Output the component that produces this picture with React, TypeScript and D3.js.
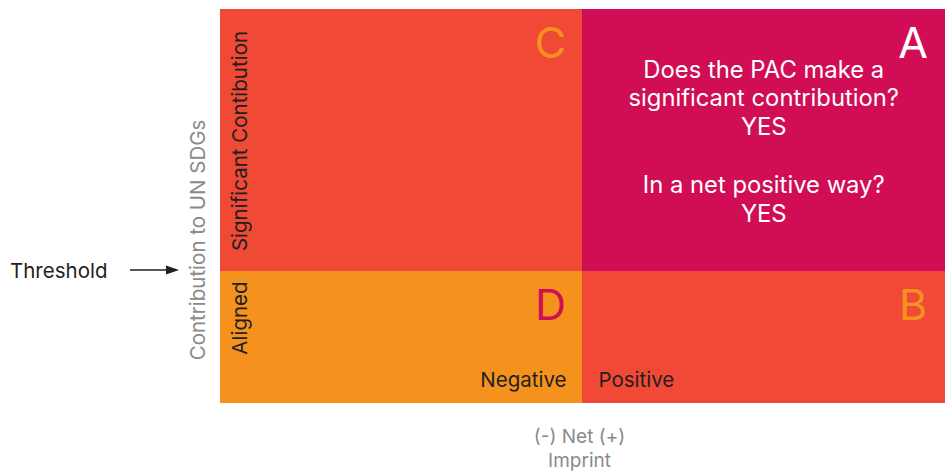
import { useEffect, useRef } from "react"
import * as d3 from "d3"

// quadrant layout in data units: net imprint (-1..1) vs contribution (0..1)
const threshold = 0.335
const quadrants = [
  { id: "C", net: [-1, 0], contrib: [threshold, 1], fill: "#F04A36", letterColor: "#F5921E" },
  { id: "A", net: [0, 1], contrib: [threshold, 1], fill: "#D10D55", letterColor: "#FFFFFF" },
  { id: "D", net: [-1, 0], contrib: [0, threshold], fill: "#F5921E", letterColor: "#D10D55" },
  { id: "B", net: [0, 1], contrib: [0, threshold], fill: "#F04A36", letterColor: "#F5921E" },
]
const questionLines = ["Does the PAC make a", "significant contribution?", "YES", "", "In a net positive way?", "YES"]
const rowLabels = ["Significant Contibution", "Aligned"]
const netLabels = ["Negative", "Positive"]
const xTitle = ["(-) Net (+)", "Imprint"]
const yTitle = "Contribution to UN SDGs"
const thresholdLabel = "Threshold"

const W = 949
const H = 471
const FONT = "Inter, 'Noto Sans', sans-serif"
const LABEL = 20.5

export default function App() {
  const svgRef = useRef<SVGSVGElement>(null)

  useEffect(() => {
    const svg = d3.select(svgRef.current)
    svg.selectAll("*").remove()

    const x = d3.scaleLinear().domain([-1, 1]).range([220, 945])
    const y = d3.scaleLinear().domain([0, 1]).range([403, 9])

    // quadrant cells
    svg
      .selectAll("rect.q")
      .data(quadrants)
      .join("rect")
      .attr("class", "q")
      .attr("x", (d) => Math.floor(x(d.net[0])))
      .attr("y", (d) => Math.round(y(d.contrib[1])))
      .attr("width", (d) => Math.floor(x(d.net[1])) - Math.floor(x(d.net[0])))
      .attr("height", (d) => Math.round(y(d.contrib[0])) - Math.round(y(d.contrib[1])))
      .attr("fill", (d) => d.fill)
      .attr("shape-rendering", "crispEdges")

    // quadrant letters
    svg
      .selectAll("text.letter")
      .data(quadrants)
      .join("text")
      .attr("class", "letter")
      .attr("x", (d) => x(d.net[1]) - 32)
      .attr("y", (d) => y(d.contrib[1]) + 49)
      .attr("text-anchor", "middle")
      .attr("font-family", FONT)
      .attr("font-size", 43)
      .attr("fill", (d) => d.letterColor)
      .text((d) => d.id)

    // question text in A
    const qx = (x(0) + x(1)) / 2
    const qy = [78, 106, 135, 164, 193, 222]
    svg
      .selectAll("text.question")
      .data(questionLines)
      .join("text")
      .attr("class", "question")
      .attr("x", qx)
      .attr("y", (_, i) => qy[i])
      .attr("text-anchor", "middle")
      .attr("font-family", FONT)
      .attr("font-size", 23.8)
      .attr("fill", "#FFFFFF")
      .text((d) => d)

    // Negative / Positive labels
    svg
      .append("text")
      .attr("x", x(0) - 16)
      .attr("y", 387)
      .attr("text-anchor", "end")
      .attr("font-family", FONT)
      .attr("font-size", LABEL)
      .attr("fill", "#231F20")
      .text(netLabels[0])
    svg
      .append("text")
      .attr("x", x(0) + 16)
      .attr("y", 387)
      .attr("text-anchor", "start")
      .attr("font-family", FONT)
      .attr("font-size", LABEL)
      .attr("fill", "#231F20")
      .text(netLabels[1])

    // row labels (rotated)
    const rowCenters = [(y(threshold) + y(1)) / 2 + 1, y(threshold) + 47]
    svg
      .selectAll("text.row")
      .data(rowLabels)
      .join("text")
      .attr("class", "row")
      .attr("transform", (_, i) => `translate(247,${rowCenters[i]}) rotate(-90)`)
      .attr("text-anchor", "middle")
      .attr("font-family", FONT)
      .attr("font-size", LABEL)
      .attr("fill", "#231F20")
      .text((d) => d)

    // y title
    svg
      .append("text")
      .attr("transform", `translate(205,${(y(0) + y(1)) / 2 + 34}) rotate(-90)`)
      .attr("text-anchor", "middle")
      .attr("font-family", FONT)
      .attr("font-size", LABEL)
      .attr("fill", "#8A8A8D")
      .text(yTitle)

    // x title
    svg
      .selectAll("text.xt")
      .data(xTitle)
      .join("text")
      .attr("class", "xt")
      .attr("x", x(0) - 3)
      .attr("y", (_, i) => 443 + i * 24)
      .attr("text-anchor", "middle")
      .attr("font-family", FONT)
      .attr("font-size", 19)
      .attr("fill", "#8A8A8D")
      .text((d) => d)

    // threshold label + arrow
    const ty = y(threshold)
    svg
      .append("text")
      .attr("x", 10)
      .attr("y", ty + 7)
      .attr("font-family", FONT)
      .attr("font-size", LABEL)
      .attr("fill", "#231F20")
      .text(thresholdLabel)
    svg
      .append("line")
      .attr("x1", 130)
      .attr("x2", 168)
      .attr("y1", ty - 1)
      .attr("y2", ty - 1)
      .attr("stroke", "#231F20")
      .attr("stroke-width", 1.5)
    svg
      .append("path")
      .attr("d", `M166,${ty - 5.5} L179,${ty - 1} L166,${ty + 3.5} Z`)
      .attr("fill", "#231F20")
  }, [])

  return (
    <svg
      ref={svgRef}
      width={W}
      height={H}
      style={{ position: "absolute", left: 0, top: 0, background: "#fff" }}
    />
  )
}
